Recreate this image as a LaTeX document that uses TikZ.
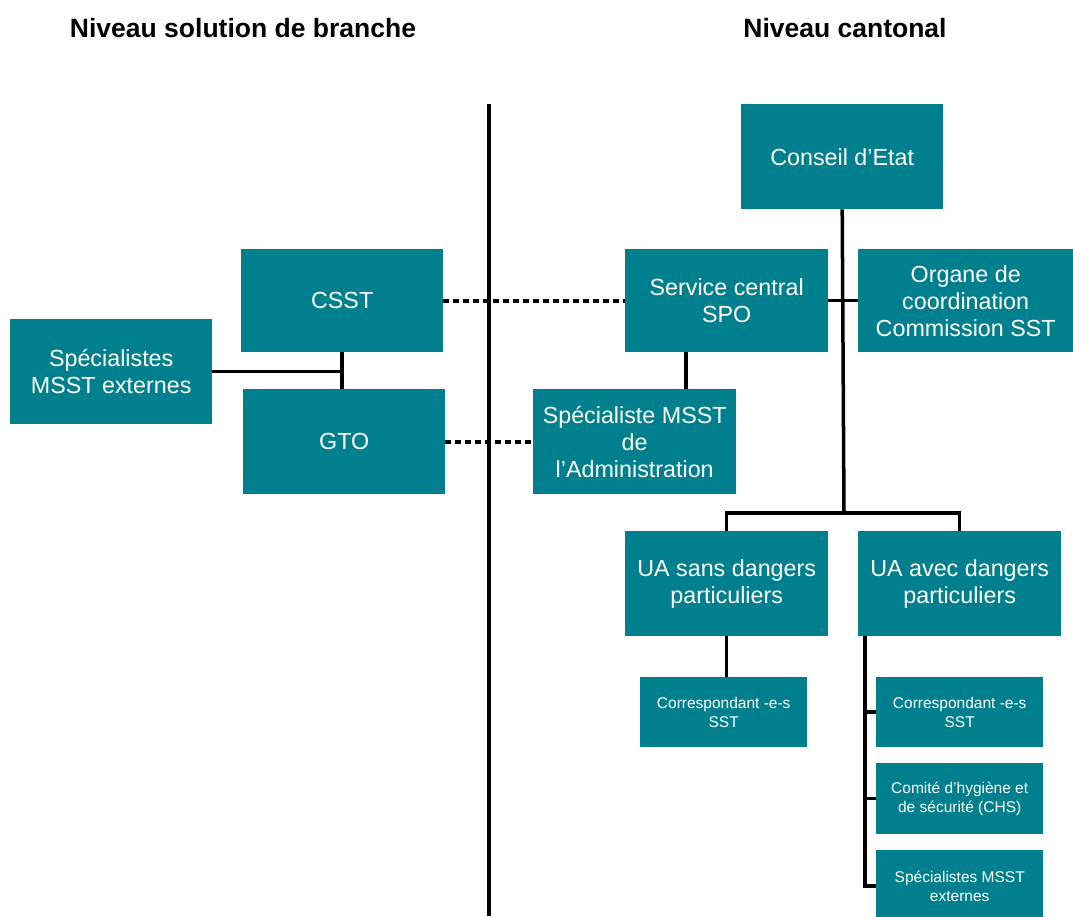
\documentclass[tikz,border=0pt]{standalone}
\usepackage{fontspec}
\setmainfont{Liberation Sans}
\usetikzlibrary{calc}
\definecolor{teal1}{HTML}{00808F}
\begin{document}
\begin{tikzpicture}[x=1pt,y=-1pt,
  box/.style={fill=teal1,text=white,anchor=north west,align=center,inner sep=2pt,font=\fontsize{23.3}{27}\selectfont},
  sbox/.style={box,font=\fontsize{15.5}{19.5}\selectfont},
  conn/.style={line width=3.5pt},
  dots/.style={line width=4pt,dash pattern=on 6pt off 4pt},
  title/.style={font=\bfseries\fontsize{26.5}{30}\selectfont}]
\clip (0,0) rectangle (1073,916);
\fill[white] (0,0) rectangle (1073,916);
\node[title] (t1) at (243,28) {Niveau solution de branche};
\node[title] (t2) at (845,28) {Niveau cantonal};
% nodes
\node[box,minimum width=202pt,minimum height=105pt] (ce) at (741,104) {Conseil d’Etat};
\node[box,minimum width=202pt,minimum height=103pt] (csst) at (241,249) {CSST};
\node[box,minimum width=203pt,minimum height=103pt] (spo) at (625,249) {Service central\\SPO};
\node[box,minimum width=215pt,minimum height=103pt] (org) at (858,249) {Organe de\\coordination\\Commission SST};
\node[box,minimum width=202pt,minimum height=105pt] (spl) at (10,319) {Spécialistes\\MSST externes};
\node[box,minimum width=202pt,minimum height=105pt] (gto) at (243,389) {GTO};
\node[box,minimum width=203pt,minimum height=105pt] (spa) at (533,389) {Spécialiste MSST\\de\\l’Administration};
\node[box,minimum width=203pt,minimum height=105pt] (uas) at (625,531) {UA sans dangers\\particuliers};
\node[box,minimum width=203pt,minimum height=105pt] (uaa) at (858,531) {UA avec dangers\\particuliers};
\node[sbox,minimum width=167pt,minimum height=70pt] (cl) at (640,677) {Correspondant -e-s\\SST};
\node[sbox,minimum width=167pt,minimum height=70pt] (cr) at (876,677) {Correspondant -e-s\\SST};
\node[sbox,minimum width=167pt,minimum height=71pt] (ch) at (876,763) {Comité d’hygiène et\\de sécurité (CHS)};
\node[sbox,minimum width=167pt,minimum height=72pt] (se) at (876,850) {Spécialistes MSST\\externes};
% divider
\coordinate (dtop) at (489,104);
\coordinate (dbot) at (489,916);
\draw[conn] (dtop) -- (dbot);
% connectors
\coordinate (j1) at (844,513);
\draw[conn] (ce.south) -- (j1);
\draw[conn] (spo.east) -- (org.west);
\draw[conn] (uas.north) |- (j1) -| (uaa.north);
\coordinate (s1) at ($(spo.south west)!0.3!(spo.south east)$);
\draw[conn] (s1) -- (s1 |- spa.north);
\draw[conn] (uas.south) -- (uas.south |- cl.north);
\coordinate (t) at (865,636);
\draw[conn] (t) |- (cr.west);
\draw[conn] (t) |- (ch.west);
\draw[conn] (t) |- (se.west);
\draw[conn] (csst.south) -- (csst.south |- gto.north);
\draw[conn] (spl.east) -- (spl.east -| csst.south);
\draw[dots] (csst.east) -- (spo.west);
\draw[dots] (gto.east) -- (spa.west);
\end{tikzpicture}
\end{document}
